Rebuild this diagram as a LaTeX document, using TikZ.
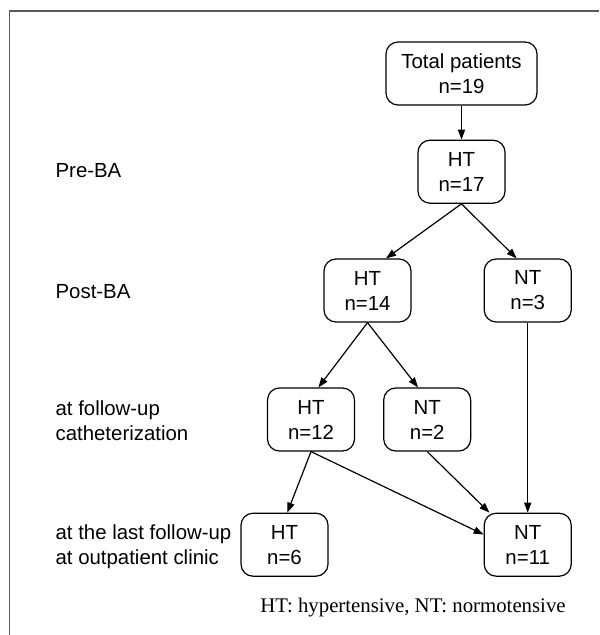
\documentclass[tikz,border=0pt]{standalone}
\usepackage{fontspec}
\setmainfont{Liberation Sans}
\newfontfamily\capfont{Liberation Serif}
\usetikzlibrary{arrows.meta,positioning}

\begin{document}
\begin{tikzpicture}[x=0.5pt,y=-0.5pt,>={Triangle[length=5pt,width=3.6pt]},line width=0.6pt]
\tikzstyle{box}=[draw, rounded corners=6pt, align=center, minimum width=43.5pt, minimum height=31.5pt, inner sep=2pt, font=\fontsize{10.2}{12.5}\selectfont]
\tikzstyle{stage}=[anchor=west, align=left, inner sep=0pt, font=\fontsize{10.2}{12.5}\selectfont]
\useasboundingbox (0,0) rectangle (599,635);
\draw[black!65] (9.5,635) |- (599,11);
% flow of patients
\node[box, minimum width=75.5pt] (total) at (461.5,73.5) {Total patients\\n=19};
\node[box, below=17pt of total] (ht17) {HT\\n=17};
\node[box] (ht14) at (367.5,290.5) {HT\\n=14};
\node[box, right=36pt of ht14] (nt3) {NT\\n=3};
\node[box] (ht12) at (311,419.5) {HT\\n=12};
\node[box, right=14pt of ht12] (nt2) {NT\\n=2};
\node[box, below=95pt of nt3] (nt11) {NT\\n=11};
\node[box, left=77.5pt of nt11] (ht6) {HT\\n=6};
% stages
\node[stage] (pre) at (55,170.5) {Pre-BA};
\node[stage] (post) at (55,292) {Post-BA};
\node[stage] (cath) at (55,421) {at follow-up\\catheterization};
\node[stage] (last) at (55,547) {at the last follow-up\\at outpatient clinic};
\node[anchor=base, inner sep=0pt, font=\capfont\fontsize{10.4}{12.5}\selectfont] (note) at (413,612) {HT: hypertensive, NT: normotensive};
\draw[->] (total.south) -- (ht17.north);
\draw[->] (ht17.south) -- (ht14.60);
\draw[->] (ht17.south) -- (nt3.109);
\draw[->] (ht14.south) -- (ht12.77);
\draw[->] (ht14.south) -- (nt2.106);
\draw[->] (ht12.south) -- (ht6.85);
\draw[->] (ht12.south) -- (nt11.167);
\draw[->] (nt2.south) -- (nt11.140);
\draw[->] (nt3.south) -- (nt11.north);
\end{tikzpicture}
\end{document}
